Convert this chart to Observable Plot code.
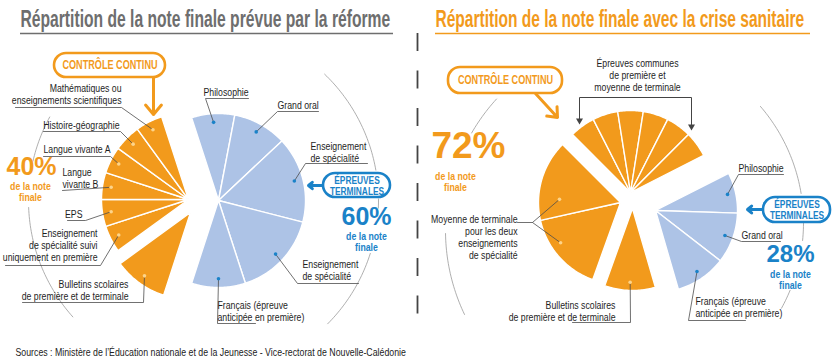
<!DOCTYPE html>
<html><head><meta charset="utf-8">
<script src="https://cdn.jsdelivr.net/npm/d3@7"></script>
<script src="https://cdn.jsdelivr.net/npm/@observablehq/plot@0.6"></script>
<style>
body{margin:0;background:#fff;}
#chart{width:835px;height:360px;overflow:hidden;}
</style></head><body><div id="chart"></div>
<script>
// ---------- DATA ----------
const reformNames = ["Philosophie","Grand oral","Enseignement\nde spécialité","Enseignement\nde spécialité","Français (épreuve\nanticipée en première)","Bulletins scolaires\nde première et de terminale","Enseignement\nde spécialité suivi\nuniquement en première","EPS","Langue\nvivante B","Langue vivante A","Histoire-géographie","Mathématiques ou\nenseignements scientifiques"];
const reformShares = [8,10,16,16,10,10,5,5,5,5,5,5];
const reformGroups = ["terminales","terminales","terminales","terminales","terminales","bulletins","communes","communes","communes","communes","communes","communes"];

const crisisNames = ["Philosophie","Grand oral","Français (épreuve\nanticipée en première)","Bulletins scolaires\nde première et de terminale","Moyenne de terminale\npour les deux\nenseignements\nde spécialité","Moyenne de terminale\npour les deux\nenseignements\nde spécialité","Épreuves communes\nde première et\nmoyenne de terminale","Épreuves communes\nde première et\nmoyenne de terminale","Épreuves communes\nde première et\nmoyenne de terminale","Épreuves communes\nde première et\nmoyenne de terminale","Épreuves communes\nde première et\nmoyenne de terminale","Épreuves communes\nde première et\nmoyenne de terminale"];
const crisisShares = [8,10,10,10,16,16,5,5,5,5,5,5];
const crisisGroups = ["terminales","terminales","terminales","bulletins","specialites","specialites","communes","communes","communes","communes","communes","communes"];

const titles = ["Répartition de la note finale prévue par la réforme","Répartition de la note finale avec la crise sanitaire"];
const boxLabels = ["CONTRÔLE CONTINU","ÉPREUVES\nTERMINALES"];
const shareNote = "de la note\nfinale";
const sourceText = "Sources : Ministère de l’Éducation nationale et de la Jeunesse - Vice-rectorat de Nouvelle-Calédonie";

// ---------- STYLE / LAYOUT ----------
const FONTN = "'Liberation Sans',Arial,Helvetica,sans-serif"; // drawn condensed
const FONTW = "'Liberation Sans',Arial,sans-serif";
const NARROW = 0.76;
const ORANGE="#f29a1c", LBLUE="#adc3e6", BLUE="#1a82c8", GRAY="#6e6e6e", INK="#1e1e1e", LEAD="#4d4d4d", ARC="#9a9a9a";

const layout = {
  reform: {start:-18, r:87, centers:{terminales:[218,200], bulletins:[190,212], communes:[188,199]},
    dots:{}, noDot:[],
    labels:{0:{x:203,y:92,a:"start",path:[[248,98],[205,98]]},
            1:{x:277,y:105,a:"start",path:[[318,111],[277,111]]},
            2:{x:310,y:146,a:"start",path:[[367,163],[305,163]]},
            3:{x:302,y:264,a:"start",path:[[358,283],[297,283]]},
            4:{x:217,y:305,a:"start",path:[[255,323],[217,323]]},
            5:{x:128,y:284,a:"end",path:[[22,302],[143,302]]},
            6:{x:97,y:233,a:"end",path:[[5,265],[100,265]]},
            7:{x:82,y:214,a:"end",path:[[67,220],[85,220]]},
            8:{x:62,y:172,a:"start",path:[[62,190]]},
            9:{x:110,y:149,a:"end",path:[[43,156],[110,156]]},
            10:{x:119,y:125,a:"end",path:[[43,131],[120,131]]},
            11:{x:121,y:88,a:"end",path:[[15,107],[121,107]]}},
    arc:{c:[203,200], r:175, segs:[[43.8,80],[89.5,92.5],[107.6,134.8],[-77,-61.5],[-131.7,-92.3]]},
    title:{x:20,x2:393,w:370,fill:GRAY},
    box1:{x1:54,x2:165,y1:53,y2:77,arrow:[153,77,153,114]},
    box2:{x1:323,x2:390,y1:173,y2:197,arrow:[323,185,308,185]},
    pc1:{x:31,y:166,size:25}, pc2:{x:366,y:216,size:25},
    note1:{x:30,y:186}, note2:{x:366,y:236}
  },
  crisis: {start:63, r:82, centers:{terminales:[655,210], bulletins:[632,208], specialites:[620,202], communes:[630,192]},
    dots:{4:[0.63,0.88],5:[0.27,0.745]}, noDot:[6,7,8,9,10,11],
    labels:{0:{x:738,y:168,a:"start",path:[[783,174],[738,174]]},
            1:{x:741,y:235,a:"start",path:[[780,241],[741,241]]},
            2:{x:695,y:301,a:"start",path:[[745,320],[688,320]]},
            3:{x:615,y:305,a:"end",path:[[572,322],[630,322]]},
            4:{x:517,y:219,a:"end",path:[[517,222],[532,222]]},
            5:{x:null,path:[[532,222]]},
            6:{x:637,y:63,a:"middle",path:null}},
    arc:[{c:[640,230], r:195, segs:[[-60,-47.6],[-115.5,-90.9]]},{c:[625,222], r:178, segs:[[49.3,80.6],[90.3,95.8],[112.4,118.8]]}],
    title:{x:435,x2:810,w:369,fill:ORANGE},
    box1:{x1:448,x2:562,y1:67,y2:93,arrow:[535,93,557,117]},
    box2:{x1:763,x2:830,y1:197,y2:222,arrow:[763,209,747,209]},
    pc1:{x:468,y:146,size:37}, pc2:{x:790,y:254,size:24},
    note1:{x:455,y:176}, note2:{x:790,y:274},
    bracket:[[579,120],[579,97],[691,97],[691,126]]
  }
};

// ---------- GEOMETRY ----------
const deg = Math.PI/180;
const P = (cx,cy,r,a)=>({x: cx + r*Math.sin(a*deg), y: cy - r*Math.cos(a*deg)});

function slicesOf(key, names, shares, groups){
  const cfg = layout[key];
  let cum = 0;
  return names.map((name,i)=>{
    const a0 = cfg.start + cum*3.6; cum += shares[i];
    const a1 = cfg.start + cum*3.6;
    const [cx,cy] = cfg.centers[groups[i]];
    const [f, rf] = cfg.dots[i] || [0.5, 0.9];
    const dot = P(cx, cy, cfg.r*rf, a0 + f*(a1-a0));
    return {key, i, name, group:groups[i], share:shares[i], a0, a1, cx, cy, r:cfg.r, dot};
  });
}
function polys(slices){
  const out=[];
  for (const s of slices){
    const id = s.key+s.i;
    out.push({id, x:s.cx, y:s.cy});
    const n = Math.max(2, Math.ceil(s.a1-s.a0));
    for (let k=0;k<=n;k++) out.push({id, ...P(s.cx,s.cy,s.r,s.a0+(s.a1-s.a0)*k/n)});
  }
  return out;
}
const reform = slicesOf("reform", reformNames, reformShares, reformGroups);
const crisis = slicesOf("crisis", crisisNames, crisisShares, crisisGroups);
const all = reform.concat(crisis);
const isTerm = s => s.group === "terminales";

const arcPts = [];
function addArcs(a, key){
  a.segs.forEach((sg,j)=>{
    const n = Math.ceil(Math.abs(sg[1]-sg[0]));
    for(let k=0;k<=n;k++) arcPts.push({id:key+j, ...P(a.c[0],a.c[1],a.r, sg[0]+(sg[1]-sg[0])*k/n)});
  });
}
addArcs(layout.reform.arc, "ra");
layout.crisis.arc.forEach((a,i)=>addArcs(a, "ca"+i));

const labelRows = [], leaderPts = [], dotRows = [];
const LH = 12, LFS = 11.5;
for (const s of all){
  const cfg = layout[s.key];
  if (!cfg.noDot.includes(s.i)) dotRows.push({x:s.dot.x, y:s.dot.y, fill: isTerm(s) ? BLUE : "#fdd48a"});
  const L = cfg.labels[s.i];
  if (!L) continue;
  if (L.x != null){
    const n = s.name.split("\n").length;
    labelRows.push({text:s.name, x:L.x, y:L.y + (n-1)*LH/2, a:L.a});
  }
  if (L.path){
    const id = s.key+"L"+s.i;
    L.path.forEach(p=>leaderPts.push({id, x:p[0], y:p[1]}));
    leaderPts.push({id, x:s.dot.x, y:s.dot.y});
  }
}
const sumWhere = (sh, gr, f) => d3.sum(sh.filter((v,i)=>f(gr[i])));
const pcts = {
  reform: [sumWhere(reformShares, reformGroups, g=>g!=="terminales"), sumWhere(reformShares, reformGroups, g=>g==="terminales")],
  crisis: [sumWhere(crisisShares, crisisGroups, g=>g!=="terminales"), sumWhere(crisisShares, crisisGroups, g=>g==="terminales")]
};

// ---------- MARKS ----------
const marks = [];
const keys = ["reform","crisis"];
keys.forEach((k,i)=>{
  const t = layout[k].title;
  marks.push(Plot.text([titles[i]], {x:()=>t.x, y:()=>18.5, text:d=>d, textAnchor:"start", fontSize:24.5, fontWeight:"bold", fill:t.fill, fontFamily:FONTW}));
  marks.push(Plot.ruleY([33], {x1:t.x, x2:t.x2, stroke:t.fill, strokeWidth:1.5}));
});
marks.push(Plot.ruleX([417], {y1:33, y2:333, stroke:"#444", strokeWidth:1.8, strokeDasharray:"18,19.5"}));
marks.push(Plot.line(arcPts, {x:"x", y:"y", z:"id", stroke:ARC, strokeWidth:0.8}));
marks.push(Plot.line(polys(all.filter(s=>!isTerm(s))), {x:"x", y:"y", z:"id", fill:ORANGE, stroke:"white", strokeWidth:1.4, curve:"linear-closed"}));
marks.push(Plot.line(polys(all.filter(isTerm)), {x:"x", y:"y", z:"id", fill:LBLUE, stroke:"white", strokeWidth:1.4, curve:"linear-closed"}));
marks.push(Plot.line(leaderPts, {x:"x", y:"y", z:"id", stroke:LEAD, strokeWidth:0.8}));
marks.push(Plot.dot(dotRows, {x:"x", y:"y", r:1.8, fill:"fill", stroke:null}));
const br = layout.crisis.bracket;
marks.push(Plot.line(br.map(p=>({x:p[0],y:p[1]})), {x:"x", y:"y", stroke:"#444", strokeWidth:1}));
marks.push(Plot.dot([br[0], br[3]], {x:d=>d[0], y:d=>d[1], symbol:"triangle", rotate:180, r:2.6, fill:"#444"}));
for (const anchor of ["start","end","middle"]){
  marks.push(Plot.text(labelRows.filter(d=>d.a===anchor), {x:"x", y:"y", text:"text", textAnchor:anchor, lineAnchor:"middle", lineHeight:LH/LFS, fontSize:LFS, fill:INK, fontFamily:FONTN}));
}
keys.forEach(k=>{
  const c = layout[k];
  const b1 = c.box1, b2 = c.box2;
  marks.push(Plot.arrow([b1.arrow], {x1:d=>d[0], y1:d=>d[1], x2:d=>d[2], y2:d=>d[3], stroke:ORANGE, strokeWidth:3, headLength:9, headAngle:80}));
  marks.push(Plot.arrow([b2.arrow], {x1:d=>d[0], y1:d=>d[1], x2:d=>d[2], y2:d=>d[3], stroke:BLUE, strokeWidth:3, headLength:8, headAngle:80}));
  marks.push(Plot.rect([b1], {x1:"x1", x2:"x2", y1:"y1", y2:"y2", rx:12, fill:"white", stroke:ORANGE, strokeWidth:2.6}));
  marks.push(Plot.rect([b2], {x1:"x1", x2:"x2", y1:"y1", y2:"y2", rx:12, fill:"white", stroke:BLUE, strokeWidth:2.6}));
  marks.push(Plot.text([boxLabels[0]], {x:()=> (b1.x1+b1.x2)/2, y:()=>(b1.y1+b1.y2)/2, text:d=>d, fontSize:12, fontWeight:"bold", fill:ORANGE, fontFamily:FONTN}));
  marks.push(Plot.text([boxLabels[1]], {x:()=> (b2.x1+b2.x2)/2, y:()=>(b2.y1+b2.y2)/2, text:d=>d, fontSize:11, lineHeight:1.0, fontWeight:"bold", fill:BLUE, fontFamily:FONTN}));
  marks.push(Plot.text([pcts[k][0]+"%"], {x:()=>c.pc1.x, y:()=>c.pc1.y, text:d=>d, fontSize:c.pc1.size, fontWeight:"bold", fill:ORANGE, fontFamily:FONTW}));
  marks.push(Plot.text([pcts[k][1]+"%"], {x:()=>c.pc2.x, y:()=>c.pc2.y, text:d=>d, fontSize:c.pc2.size, fontWeight:"bold", fill:BLUE, fontFamily:FONTW}));
  marks.push(Plot.text([shareNote], {x:()=>c.note1.x, y:()=>c.note1.y + 5.5, text:d=>d, lineAnchor:"middle", fontSize:11.5, lineHeight:0.98, fontWeight:"bold", fill:ORANGE, fontFamily:FONTN}));
  marks.push(Plot.text([shareNote], {x:()=>c.note2.x, y:()=>c.note2.y + 5.5, text:d=>d, lineAnchor:"middle", fontSize:11.5, lineHeight:0.98, fontWeight:"bold", fill:BLUE, fontFamily:FONTN}));
});
marks.push(Plot.text([sourceText], {x:()=>15, y:()=>352, text:d=>d, textAnchor:"start", fontSize:11, fill:"#222", fontFamily:FONTN}));

const plot = Plot.plot({
  width:835, height:360, margin:0,
  x:{domain:[0,835], range:[0,835], axis:null},
  y:{domain:[0,360], range:[0,360], axis:null},
  style:{background:"white", overflow:"visible"},
  marks
});
document.getElementById("chart").appendChild(plot);

// horizontal condensing of the narrow typeface (scaled around each text's anchor)
function squeeze(node, s){
  const t = node.getAttribute("transform");
  if (t) node.setAttribute("transform", t + ` scale(${s},1)`);
  else {
    const x = +node.getAttribute("x") || 0;
    node.setAttribute("transform", `translate(${x},0) scale(${s},1) translate(${-x},0)`);
  }
}
const widths = {[titles[0]]: layout.reform.title.w, [titles[1]]: layout.crisis.title.w, [sourceText]: 391};
d3.select(plot).selectAll("text").each(function(){
  const txt = this.textContent;
  const fam = this.parentNode.getAttribute("font-family") || this.getAttribute("font-family");
  if (widths[txt]) squeeze(this, widths[txt] / this.getComputedTextLength());
  else if (fam === FONTN) squeeze(this, NARROW);
});
</script></body></html>
